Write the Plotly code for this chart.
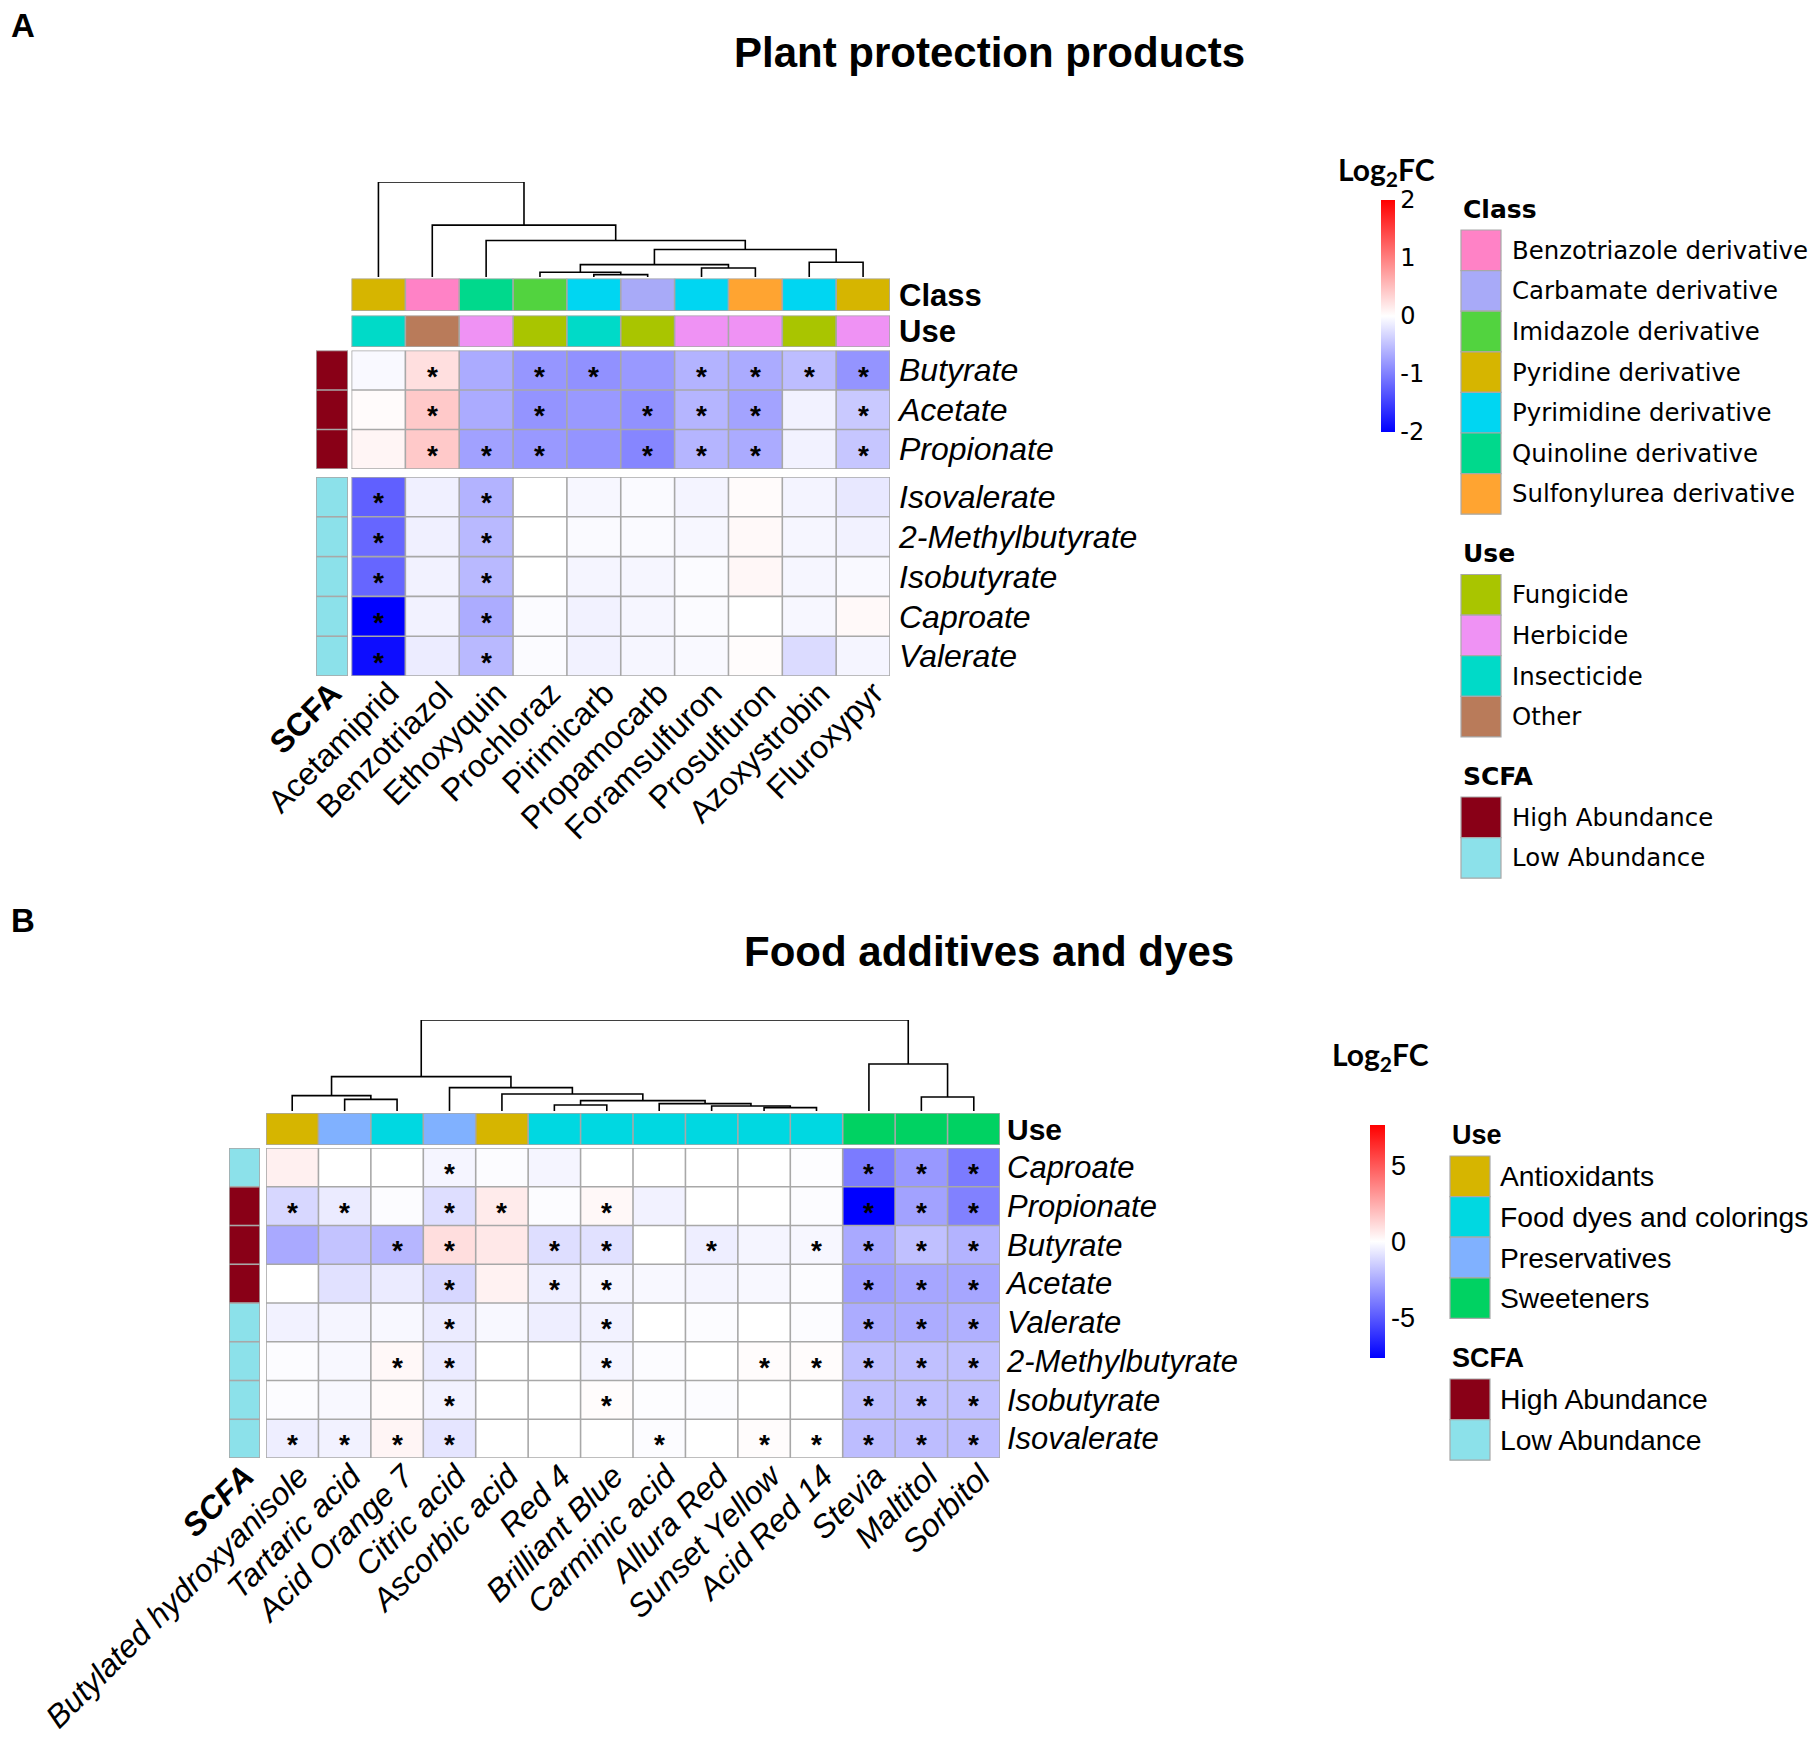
import plotly.graph_objects as go

W, H = 1820, 1737
OFF = 8  # page body margin offset in the browser
ARIAL = "Liberation Sans, Arial, sans-serif"
GOTHIC = "DejaVu Sans, sans-serif"
CALIBRI = "Lato, Open Sans, sans-serif"
GRID = "#A8A8A8"

# ---------------- Panel A data ----------------
a_cols = ["Acetamiprid", "Benzotriazol", "Ethoxyquin", "Prochloraz", "Pirimicarb",
          "Propamocarb", "Foramsulfuron", "Prosulfuron", "Azoxystrobin", "Fluroxypyr"]
a_rows_high = ["Butyrate", "Acetate", "Propionate"]
a_rows_low = ["Isovalerate", "2-Methylbutyrate", "Isobutyrate", "Caproate", "Valerate"]
a_vals_high = [
    [-0.05, 0.25, -0.66, -0.82, -0.86, -0.80, -0.60, -0.66, -0.52, -0.84],
    [0.03, 0.42, -0.66, -0.84, -0.80, -0.86, -0.58, -0.72, -0.10, -0.42],
    [0.08, 0.42, -0.74, -0.80, -0.84, -0.95, -0.58, -0.66, -0.10, -0.45]]
a_vals_low = [
    [-1.25, -0.12, -0.60, 0.00, -0.06, -0.04, -0.09, 0.03, -0.09, -0.18],
    [-1.20, -0.12, -0.55, 0.00, -0.04, -0.04, -0.06, 0.05, -0.07, -0.10],
    [-1.20, -0.10, -0.55, 0.00, -0.08, -0.07, -0.03, 0.06, -0.07, -0.05],
    [-2.00, -0.10, -0.65, -0.03, -0.10, -0.07, -0.03, 0.00, -0.06, 0.05],
    [-1.90, -0.15, -0.55, -0.03, -0.10, -0.07, -0.05, 0.02, -0.28, -0.08]]
a_sig_high = [
    [0, 1, 0, 1, 1, 0, 1, 1, 1, 1],
    [0, 1, 0, 1, 0, 1, 1, 1, 0, 1],
    [0, 1, 1, 1, 0, 1, 1, 1, 0, 1]]
a_sig_low = [
    [1, 0, 1, 0, 0, 0, 0, 0, 0, 0],
    [1, 0, 1, 0, 0, 0, 0, 0, 0, 0],
    [1, 0, 1, 0, 0, 0, 0, 0, 0, 0],
    [1, 0, 1, 0, 0, 0, 0, 0, 0, 0],
    [1, 0, 1, 0, 0, 0, 0, 0, 0, 0]]
a_class = ["Pyridine derivative", "Benzotriazole derivative", "Quinoline derivative",
           "Imidazole derivative", "Pyrimidine derivative", "Carbamate derivative",
           "Pyrimidine derivative", "Sulfonylurea derivative", "Pyrimidine derivative",
           "Pyridine derivative"]
a_use = ["Insecticide", "Other", "Herbicide", "Fungicide", "Insecticide", "Fungicide",
         "Herbicide", "Herbicide", "Fungicide", "Herbicide"]
a_class_levels = ["Benzotriazole derivative", "Carbamate derivative", "Imidazole derivative",
                  "Pyridine derivative", "Pyrimidine derivative", "Quinoline derivative",
                  "Sulfonylurea derivative"]
a_class_colors = ["#FF82C6", "#A8AAF8", "#52D33F", "#D6B500", "#00D6F2", "#00D98C", "#FFA431"]
a_use_levels = ["Fungicide", "Herbicide", "Insecticide", "Other"]
a_use_colors = ["#A9C500", "#EF92F4", "#00DAC8", "#B97B5A"]
a_scfa_high = ["High Abundance"] * 3
a_scfa_low = ["Low Abundance"] * 5
# dendrogram merges: (left node, right node, height); leaves are 0..n-1
a_linkage = [(4, 5, 7), (3, 10, 14), (6, 7, 27), (11, 12, 37), (8, 9, 44),
             (13, 14, 82), (2, 15, 109), (1, 16, 155), (0, 17, 284)]

scfa_levels = ["High Abundance", "Low Abundance"]
scfa_colors = ["#890017", "#8CE1EA"]

# ---------------- Panel B data ----------------
b_cols = ["Butylated hydroxyanisole", "Tartaric acid", "Acid Orange 7", "Citric acid",
          "Ascorbic acid", "Red 4", "Brilliant Blue", "Carminic acid", "Allura Red",
          "Sunset Yellow", "Acid Red 14", "Stevia", "Maltitol", "Sorbitol"]
b_rows = ["Caproate", "Propionate", "Butyrate", "Acetate", "Valerate",
          "2-Methylbutyrate", "Isobutyrate", "Isovalerate"]
b_scfa = ["Low Abundance", "High Abundance", "High Abundance", "High Abundance",
          "Low Abundance", "Low Abundance", "Low Abundance", "Low Abundance"]
b_vals = [
    [0.45, 0.0, 0.0, -0.3, -0.1, -0.3, 0.0, 0.0, 0.0, 0.0, -0.05, -4.0, -3.1, -4.0],
    [-1.2, -0.6, -0.1, -1.0, 0.6, -0.1, 0.2, -0.4, 0.0, 0.0, -0.1, -7.7, -2.8, -3.8],
    [-2.6, -1.8, -2.2, 1.0, 0.7, -1.0, -0.9, 0.0, -0.5, -0.3, -0.25, -2.6, -1.9, -2.3],
    [0.0, -0.9, -0.6, -1.2, 0.4, -0.5, -0.3, -0.2, -0.3, -0.2, -0.1, -2.9, -2.7, -2.7],
    [-0.4, -0.3, -0.2, -0.6, -0.2, -0.5, -0.4, 0.0, -0.1, 0.0, -0.1, -2.5, -2.5, -2.4],
    [-0.1, -0.2, 0.2, -0.6, 0.0, 0.0, -0.3, -0.1, 0.0, 0.1, 0.1, -1.9, -1.9, -1.9],
    [-0.1, -0.2, 0.15, -0.4, 0.0, 0.0, 0.1, -0.05, -0.1, 0.0, 0.0, -1.9, -1.9, -1.9],
    [-0.5, -0.4, 0.3, -0.8, 0.0, 0.0, 0.0, -0.1, 0.0, 0.1, 0.0, -2.0, -2.0, -2.0]]
b_sig = [
    [0, 0, 0, 1, 0, 0, 0, 0, 0, 0, 0, 1, 1, 1],
    [1, 1, 0, 1, 1, 0, 1, 0, 0, 0, 0, 1, 1, 1],
    [0, 0, 1, 1, 0, 1, 1, 0, 1, 0, 1, 1, 1, 1],
    [0, 0, 0, 1, 0, 1, 1, 0, 0, 0, 0, 1, 1, 1],
    [0, 0, 0, 1, 0, 0, 1, 0, 0, 0, 0, 1, 1, 1],
    [0, 0, 1, 1, 0, 0, 1, 0, 0, 1, 1, 1, 1, 1],
    [0, 0, 0, 1, 0, 0, 1, 0, 0, 0, 0, 1, 1, 1],
    [1, 1, 1, 1, 0, 0, 0, 1, 0, 1, 1, 1, 1, 1]]
b_use = ["Antioxidants", "Preservatives", "Food dyes and colorings", "Preservatives",
         "Antioxidants", "Food dyes and colorings", "Food dyes and colorings",
         "Food dyes and colorings", "Food dyes and colorings", "Food dyes and colorings",
         "Food dyes and colorings", "Sweeteners", "Sweeteners", "Sweeteners"]
b_use_levels = ["Antioxidants", "Food dyes and colorings", "Preservatives", "Sweeteners"]
b_use_colors = ["#D6B500", "#00D8E1", "#80B1FF", "#00D262"]
b_linkage = [(9, 10, 10), (8, 14, 15), (7, 15, 22), (5, 6, 18), (17, 16, 31),
             (4, 18, 51), (3, 19, 70), (1, 2, 35), (0, 21, 46), (22, 20, 103),
             (12, 13, 42), (11, 24, 141), (23, 25, 273)]

a_cticks = [-2, -1, 0, 1, 2]
b_cticks = [-5, 0, 5]

# ---------------- helpers ----------------
def px(p):
    return (p - OFF) / W


def py(p):
    return 1 - (p - OFF) / H


def xd(p0, p1):
    return [px(p0), px(p1)]


def yd(p0, p1):
    return [py(p1), py(p0)]


def discrete_scale(colors):
    k = len(colors)
    cs = []
    for i, c in enumerate(colors):
        cs.append([i / k, c])
        cs.append([(i + 1) / k, c])
    return cs


def grid_lines(ncol, nrow):
    xs, ys = [], []
    for i in range(ncol + 1):
        xs += [i - 0.5, i - 0.5, None]
        ys += [-0.5, nrow - 0.5, None]
    for j in range(nrow + 1):
        xs += [-0.5, ncol - 0.5, None]
        ys += [j - 0.5, j - 0.5, None]
    return xs, ys


def dendro(n, linkage):
    pos = {i: (float(i), 0.0) for i in range(n)}
    xs, ys = [], []
    for k, (a, b, h) in enumerate(linkage):
        xa, ha = pos[a]
        xb, hb = pos[b]
        xs += [xa, xa, xb, xb, None]
        ys += [ha, h, h, hb, None]
        pos[n + k] = ((xa + xb) / 2, h)
    return xs, ys


bwr = [[0, "#0000FF"], [0.5, "#FFFFFF"], [1, "#FF0000"]]

fig = go.Figure()
annotations = []
shapes = []


def add_grid(xa, ya, ncol, nrow):
    gx, gy = grid_lines(ncol, nrow)
    fig.add_trace(go.Scatter(x=gx, y=gy, mode="lines", xaxis=xa, yaxis=ya,
                             line=dict(color=GRID, width=1.6), hoverinfo="skip",
                             showlegend=False))


def add_value_heat(z, sig, xa, ya, cax):
    nrow, ncol = len(z), len(z[0])
    fig.add_trace(go.Heatmap(z=z, x=list(range(ncol)), y=list(range(nrow)),
                             coloraxis=cax, xaxis=xa, yaxis=ya, hoverinfo="skip"))
    add_grid(xa, ya, ncol, nrow)
    for r in range(nrow):
        for c in range(ncol):
            if sig[r][c]:
                annotations.append(dict(x=c, y=r, xref=xa, yref=ya, text="<b>*</b>",
                                        showarrow=False, yshift=-6,
                                        font=dict(family=ARIAL, size=28, color="black")))


def add_cat_heat(labels, levels, colors, xa, ya, horizontal=True):
    idx = [levels.index(v) for v in labels]
    k = len(levels)
    if horizontal:
        z = [idx]
        xs, ys = list(range(len(idx))), [0]
        ncol, nrow = len(idx), 1
    else:
        z = [[v] for v in idx]
        xs, ys = [0], list(range(len(idx)))
        ncol, nrow = 1, len(idx)
    fig.add_trace(go.Heatmap(z=z, x=xs, y=ys, colorscale=discrete_scale(colors),
                             zmin=-0.5, zmax=k - 0.5, showscale=False,
                             xaxis=xa, yaxis=ya, hoverinfo="skip"))
    add_grid(xa, ya, ncol, nrow)


# label-only axes first (column names hang from the top-right corner of the text)
fig.add_trace(go.Scatter(x=[None], y=[None], xaxis="x5", yaxis="y2", mode="markers",
                         showlegend=False, hoverinfo="skip"))
fig.add_trace(go.Scatter(x=[None], y=[None], xaxis="x6", yaxis="y6", mode="markers",
                         showlegend=False, hoverinfo="skip"))

# ---------------- Panel A traces ----------------
add_value_heat(a_vals_high, a_sig_high, "x", "y", "coloraxis")
add_value_heat(a_vals_low, a_sig_low, "x", "y2", "coloraxis")
add_cat_heat(a_class, a_class_levels, a_class_colors, "x", "y3")
add_cat_heat(a_use, a_use_levels, a_use_colors, "x", "y4")
add_cat_heat(a_scfa_high, scfa_levels, scfa_colors, "x2", "y", horizontal=False)
add_cat_heat(a_scfa_low, scfa_levels, scfa_colors, "x2", "y2", horizontal=False)
dx, dy = dendro(len(a_cols), a_linkage)
fig.add_trace(go.Scatter(x=dx, y=dy, mode="lines", xaxis="x", yaxis="y5",
                         line=dict(color="black", width=1.6), hoverinfo="skip",
                         showlegend=False))

# ---------------- Panel B traces ----------------
add_value_heat(b_vals, b_sig, "x3", "y6", "coloraxis2")
add_cat_heat(b_use, b_use_levels, b_use_colors, "x3", "y7")
add_cat_heat(b_scfa, scfa_levels, scfa_colors, "x4", "y6", horizontal=False)
dx, dy = dendro(len(b_cols), b_linkage)
fig.add_trace(go.Scatter(x=dx, y=dy, mode="lines", xaxis="x3", yaxis="y8",
                         line=dict(color="black", width=1.6), hoverinfo="skip",
                         showlegend=False))

# ---------------- axes ----------------
base = dict(showgrid=False, zeroline=False, showline=False, ticks="", automargin=False)
colfont = dict(family=ARIAL, size=32, color="black")
rowfont_a = dict(family=ARIAL, size=32, color="black")
rowfont_b = dict(family=ARIAL, size=31, color="black")
barfont_a = dict(family=ARIAL, size=31, color="black")
barfont_b = dict(family=ARIAL, size=30, color="black")

a_lab_pos = py(676 - 9)
b_lab_pos = py(1458 - 8)
A_SHIFT = 11
B_SHIFT = 7

layout_axes = dict(
    xaxis=dict(base, domain=xd(351.5, 890), range=[-0.5, 9.5], anchor="y2",
               showticklabels=False),
    xaxis5=dict(base, domain=xd(351.5 + A_SHIFT, 890 + A_SHIFT), range=[-0.5, 9.5],
                anchor="free", position=a_lab_pos,
                tickvals=list(range(len(a_cols))), ticktext=a_cols, tickangle=-45,
                tickfont=colfont),
    xaxis2=dict(base, domain=xd(316, 348), range=[-0.5, 0.5], anchor="free",
                position=a_lab_pos,
                tickvals=[0], ticktext=["<b>SCFA</b>"], tickangle=-45, tickfont=colfont),
    yaxis=dict(base, domain=yd(350.5, 469), range=[2.5, -0.5], anchor="x", side="right",
               tickvals=list(range(3)), ticktext=["<i>%s</i>" % r for r in a_rows_high],
               tickfont=rowfont_a, ticklabelstandoff=8),
    yaxis2=dict(base, domain=yd(477, 676), range=[4.5, -0.5], anchor="x", side="right",
                tickvals=list(range(5)), ticktext=["<i>%s</i>" % r for r in a_rows_low],
                tickfont=rowfont_a, ticklabelstandoff=8),
    yaxis3=dict(base, domain=yd(278.5, 311), range=[0.5, -0.5], anchor="x", side="right",
                tickvals=[0], ticktext=["<b>Class</b>"], tickfont=barfont_a,
                ticklabelstandoff=8),
    yaxis4=dict(base, domain=yd(315.5, 347), range=[0.5, -0.5], anchor="x", side="right",
                tickvals=[0], ticktext=["<b>Use</b>"], tickfont=barfont_a,
                ticklabelstandoff=8),
    yaxis5=dict(base, domain=yd(182, 277), range=[0, 284], anchor="x", visible=False),
    xaxis3=dict(base, domain=xd(266, 1000), range=[-0.5, 13.5], anchor="y6",
                showticklabels=False),
    xaxis6=dict(base, domain=xd(266 + B_SHIFT, 1000 + B_SHIFT), range=[-0.5, 13.5],
                anchor="free", position=b_lab_pos,
                tickvals=list(range(len(b_cols))), ticktext=["<i>%s</i>" % c for c in b_cols],
                tickangle=-45, tickfont=colfont),
    xaxis4=dict(base, domain=xd(229, 260), range=[-0.5, 0.5], anchor="free",
                position=b_lab_pos,
                tickvals=[0], ticktext=["<b><i>SCFA</i></b>"], tickangle=-45, tickfont=colfont),
    yaxis6=dict(base, domain=yd(1148, 1458), range=[7.5, -0.5], anchor="x3", side="right",
                tickvals=list(range(8)), ticktext=["<i>%s</i>" % r for r in b_rows],
                tickfont=rowfont_b, ticklabelstandoff=6),
    yaxis7=dict(base, domain=yd(1113, 1145), range=[0.5, -0.5], anchor="x3", side="right",
                tickvals=[0], ticktext=["<b>Use</b>"], tickfont=barfont_b,
                ticklabelstandoff=6),
    yaxis8=dict(base, domain=yd(1020, 1111), range=[0, 273], anchor="x3", visible=False),
)

# ---------------- legends ----------------
def legend_block(x0, y_title, y_box, title, levels, colors, font, tfont, box_w, box_h, label_dx):
    annotations.append(dict(x=px(x0), y=py(y_title), xref="paper", yref="paper",
                            text="<b>%s</b>" % title, showarrow=False, xanchor="left",
                            yanchor="middle", font=tfont))
    for i, (lv, col) in enumerate(zip(levels, colors)):
        top = y_box + i * box_h
        shapes.append(dict(type="rect", xref="paper", yref="paper",
                           x0=px(x0), x1=px(x0 + box_w),
                           y0=py(top), y1=py(top + box_h),
                           fillcolor=col, line=dict(color=GRID, width=1.2)))
        annotations.append(dict(x=px(x0 + label_dx), y=py(top + box_h / 2),
                                xref="paper", yref="paper", text=lv, showarrow=False,
                                xanchor="left", yanchor="middle", font=font))


gfont = dict(family=GOTHIC, size=24.4, color="black")
gtfont = dict(family=GOTHIC, size=25, color="black")
legend_block(1461, 210, 230, "Class", a_class_levels, a_class_colors, gfont, gtfont, 40, 40.6, 49)
legend_block(1461, 554, 574.5, "Use", a_use_levels, a_use_colors, gfont, gtfont, 40, 40.6, 49)
legend_block(1461, 776, 797, "SCFA", scfa_levels, scfa_colors, gfont, gtfont, 40, 40.6, 49)

afont = dict(family=ARIAL, size=28.3, color="black")
atfont = dict(family=ARIAL, size=27, color="black")
legend_block(1450, 1135, 1156, "Use", b_use_levels, b_use_colors, afont, atfont, 40, 40.6, 48)
legend_block(1450, 1358, 1379, "SCFA", scfa_levels, scfa_colors, afont, atfont, 40, 40.6, 48)

for txt, x, y in [("<b>Log<sub>2</sub>FC</b>", 1386, 171), ("<b>Log<sub>2</sub>FC</b>", 1380, 1056)]:
    annotations.append(dict(x=px(x), y=py(y), xref="paper", yref="paper", text=txt,
                            showarrow=False, xanchor="center", yanchor="middle",
                            font=dict(family=CALIBRI, size=30, color="black")))

# titles and panel letters
for txt, x, y, size in [("<b>Plant protection products</b>", 989, 53, 42),
                        ("<b>Food additives and dyes</b>", 989, 951, 42)]:
    annotations.append(dict(x=px(x), y=py(y), xref="paper", yref="paper", text=txt,
                            showarrow=False, xanchor="center", yanchor="middle",
                            font=dict(family=ARIAL, size=size, color="black")))
for txt, x, y in [("<b>A</b>", 23, 25), ("<b>B</b>", 23, 920)]:
    annotations.append(dict(x=px(x), y=py(y), xref="paper", yref="paper", text=txt,
                            showarrow=False, xanchor="center", yanchor="middle",
                            font=dict(family=ARIAL, size=33, color="black")))

fig.update_layout(
    width=W, height=H, margin=dict(l=0, r=0, t=0, b=0, autoexpand=False),
    paper_bgcolor="white", plot_bgcolor="rgba(0,0,0,0)", showlegend=False,
    coloraxis=dict(colorscale=bwr, cmin=-2, cmax=2,
                   colorbar=dict(x=px(1381), xanchor="left", y=py(200), yanchor="top",
                                 len=232 / H, lenmode="fraction", thickness=14,
                                 outlinewidth=0, xpad=0, ypad=0, ticks="",
                                 tickvals=a_cticks, ticktext=[str(t) for t in a_cticks],
                                 tickfont=dict(family=GOTHIC, size=24, color="black"))),
    coloraxis2=dict(colorscale=bwr, cmin=-7.7, cmax=7.7,
                    colorbar=dict(x=px(1370), xanchor="left", y=py(1125), yanchor="top",
                                  len=233 / H, lenmode="fraction", thickness=15,
                                  outlinewidth=0, xpad=0, ypad=0, ticks="",
                                  tickvals=b_cticks, ticktext=[str(t) for t in b_cticks],
                                  tickfont=dict(family=ARIAL, size=27, color="black"))),
    annotations=annotations, shapes=shapes,
    **layout_axes)

fig.write_html("out.html")
